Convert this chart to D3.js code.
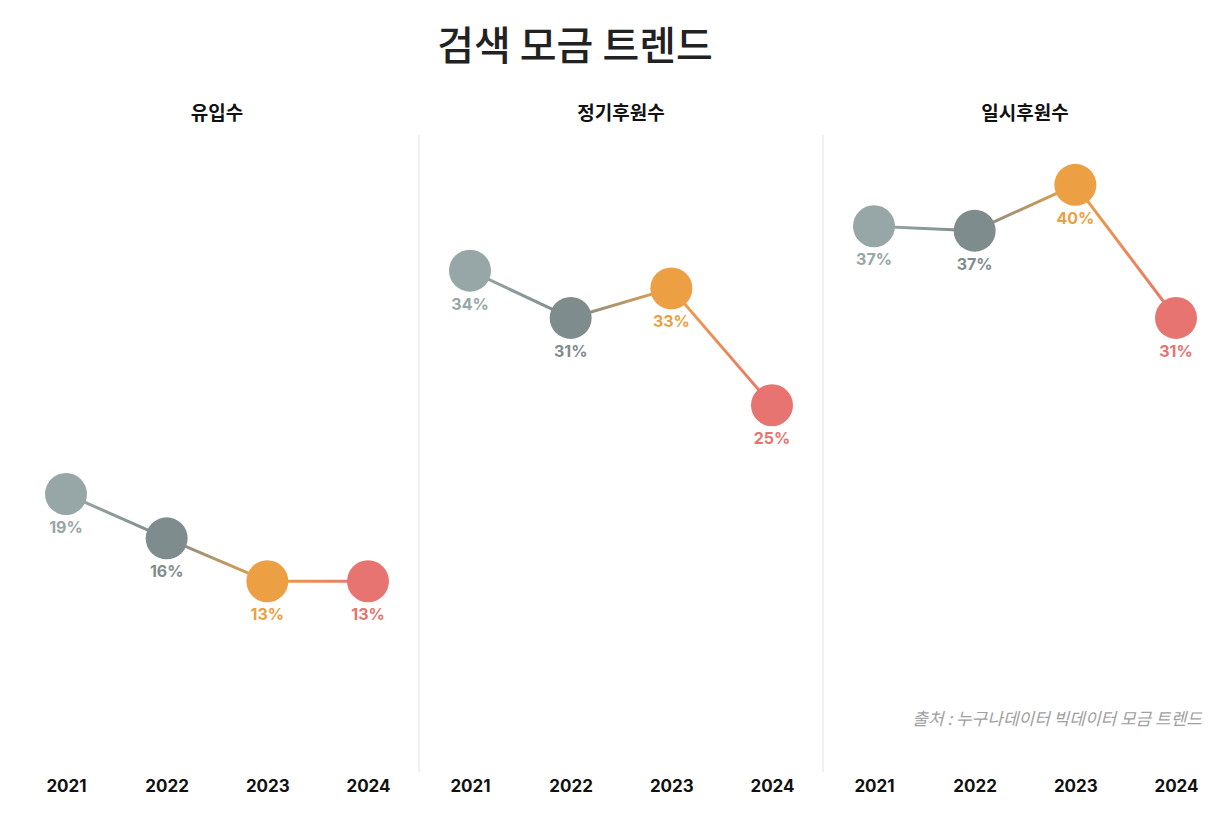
<!DOCTYPE html>
<html><head><meta charset="utf-8">
<script src="https://cdn.jsdelivr.net/npm/d3@7"></script>
<style>body{margin:0;background:#fff;font-family:"Noto Sans CJK KR","Noto Sans",sans-serif;}</style>
</head><body><svg id="c" width="1231" height="820"></svg>
<script>
const years = ['2021', '2022', '2023', '2024'];
const panels = ['유입수', '정기후원수', '일시후원수'];
const inflow = [19.0, 16.0, 13.1, 13.1];
const regular = [34.1, 30.9, 32.9, 25.0];
const oneTime = [37.1, 36.8, 39.9, 30.9];
const labels = [['19%', '16%', '13%', '13%'], ['34%', '31%', '33%', '25%'], ['37%', '37%', '40%', '31%']];
const colors = ['#97a6a6', '#7f8c8d', '#eca043', '#e77470'];
const series = [inflow, regular, oneTime];

const svg = d3.select('#c');
const defs = svg.append('defs');

svg.append('text').attr('x', 575).attr('y', 60).attr('text-anchor', 'middle')
  .attr('font-size', 40).attr('font-weight', 500).attr('fill', '#222').text('검색 모금 트렌드');

const panel = d3.scaleBand().domain(panels).range([15, 1227]);
const y = d3.scaleLinear().domain([0, 43]).range([775, 139]);

panels.forEach((p, pi) => {
  const x0 = panel(p);
  const x = d3.scalePoint().domain(years).range([x0 + 51, x0 + 353]);
  const g = svg.append('g');
  if (pi > 0) g.append('line').attr('x1', x0).attr('x2', x0).attr('y1', 135).attr('y2', 772)
    .attr('stroke', '#e2e2e2');
  g.append('text').attr('x', x0 + 202).attr('y', 120).attr('text-anchor', 'middle')
    .attr('font-size', 19).attr('font-weight', 700).attr('fill', '#111').text(p);

  const vals = series[pi];
  for (let i = 0; i < 3; i++) {
    const id = `lg${pi}${i}`;
    const gr = defs.append('linearGradient').attr('id', id).attr('gradientUnits', 'userSpaceOnUse')
      .attr('x1', x(years[i])).attr('x2', x(years[i + 1])).attr('y1', 0).attr('y2', 0);
    gr.append('stop').attr('offset', '0%').attr('stop-color', colors[i]);
    gr.append('stop').attr('offset', '100%').attr('stop-color', colors[i + 1]);
    g.append('line').attr('x1', x(years[i])).attr('x2', x(years[i + 1]))
      .attr('y1', y(vals[i])).attr('y2', y(vals[i + 1]) + 0.01)
      .attr('stroke', `url(#${id})`).attr('stroke-width', 3);
  }
  g.selectAll('circle').data(vals).join('circle')
    .attr('cx', (_, i) => x(years[i])).attr('cy', d => y(d)).attr('r', 21)
    .attr('fill', (_, i) => colors[i]);
  g.selectAll('.lbl').data(vals).join('text').attr('class', 'lbl')
    .attr('x', (_, i) => x(years[i])).attr('y', d => y(d) + 39)
    .attr('text-anchor', 'middle').attr('font-size', 16).attr('font-weight', 700)
    .attr('font-family', 'Inter, sans-serif')
    .attr('fill', (_, i) => colors[i]).text((_, i) => labels[pi][i]);

  g.append('g').attr('transform', 'translate(0,786)')
    .call(d3.axisBottom(x).tickSize(0).tickPadding(0))
    .call(a => a.select('.domain').remove())
    .call(a => a.selectAll('text').attr('font-size', 17).attr('font-weight', 700)
      .attr('font-family', 'Inter, sans-serif').attr('fill', '#111').attr('dy', '0.35em'));
});

svg.append('text').attr('x', 1202).attr('y', 725).attr('text-anchor', 'end')
  .attr('font-size', 17).attr('font-style', 'italic').attr('fill', '#a0a0a0')
  .text('출처 : 누구나데이터 빅데이터 모금 트렌드');
</script></body></html>
